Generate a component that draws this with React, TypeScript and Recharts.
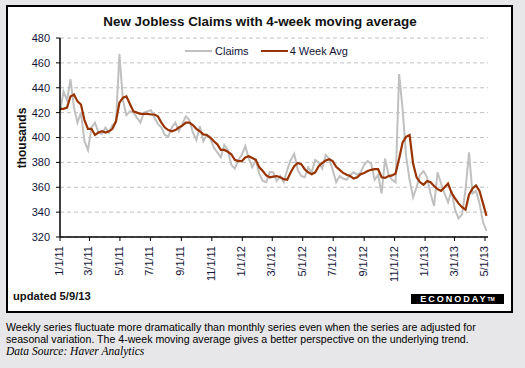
import { LineChart, Line, XAxis, YAxis, CartesianGrid } from "recharts";

// weekly initial claims, thousands (week ending 1/1/11 .. 5/4/13)
const claims = [
  420, 437, 430, 447, 424, 412, 420, 397, 390, 408,
  412, 404, 403, 408, 404, 410, 412, 467, 430, 418,
  421, 420, 416, 412, 420, 421, 422, 416, 411, 408,
  402, 401, 408, 412, 405, 411, 417, 414, 404, 398,
  409, 397, 402, 399, 392, 388, 384, 394, 390, 378,
  375, 382, 386, 393, 383, 376, 382, 371, 365, 364,
  372, 372, 365, 369, 364, 374, 382, 387, 374, 369,
  368, 376, 372, 382, 380, 375, 386, 383, 374, 364,
  369, 367, 366, 370, 372, 370, 372, 378, 381, 379,
  366, 370, 355, 383, 370, 366, 364, 451, 423, 385,
  366, 352, 360, 370, 373, 368, 355, 345, 372, 363,
  355, 348, 357, 342, 335, 338, 358, 388, 355, 357,
  347, 332, 325,
];

const fourWeekAvg = [
  423, 423, 424, 433, 434.5, 429, 426.5, 414, 407, 407,
  402, 404, 405, 404, 405, 407, 413, 428, 432, 433,
  427, 421, 420, 419, 419, 419, 418.5, 418.5, 417, 412,
  408, 406, 405, 406, 408, 409.5, 412, 412, 410, 407,
  405, 402.5, 402, 400, 397, 394.5, 390, 390, 388.5, 386.5,
  382, 381, 381, 384, 385, 383.5, 382, 376, 373, 369.5,
  368, 368.5, 369, 368, 366.5, 366, 372, 377, 379.5, 378.5,
  374.5, 372, 370.5, 372, 377, 379.5, 381.5, 382.5, 381, 376.5,
  374, 371.5, 370, 369, 367, 368, 370.5, 371.5, 373, 374,
  374.5, 374.5, 368, 367.5, 369, 369.5, 371, 383, 396, 400.5,
  402, 379, 368, 364, 362, 365, 364, 361, 358.5, 357,
  360, 363, 355.5, 351, 347, 344, 342, 354, 359, 361.5,
  357, 347, 337,
];

// x ticks: days since 1/1/11
const tickDays = [0, 59, 120, 181, 243, 304, 365, 425, 486, 547, 609, 670, 731, 790, 851];
const tickLabels = [
  "1/1/11", "3/1/11", "5/1/11", "7/1/11", "9/1/11", "11/1/11",
  "1/1/12", "3/1/12", "5/1/12", "7/1/12", "9/1/12", "11/1/12",
  "1/1/13", "3/1/13", "5/1/13",
];
const yTicks = [320, 340, 360, 380, 400, 420, 440, 460, 480];

const data = claims.map((c, i) => ({ day: i * 7, claims: c, avg: fourWeekAvg[i] }));

const FONT = '"Liberation Sans", Arial, sans-serif';
const INK = "#14143a";

function XTick(props: any) {
  const { x, y, payload } = props;
  const label = tickLabels[tickDays.indexOf(payload.value)] ?? "";
  return (
    <text
      x={x + 3}
      y={y + 3}
      transform={`rotate(-90, ${x + 3}, ${y + 3})`}
      textAnchor="end"
      fontSize={11}
      fontFamily={FONT}
      fill={INK}
    >
      {label}
    </text>
  );
}

export default function App() {
  return (
    <div style={{ position: "relative", width: 525, height: 368, background: "#e7e7e9", overflow: "hidden" }}>
      <style>{"body{margin:0}"}</style>

      {/* framed chart box */}
      <div
        style={{
          position: "absolute", left: 6, top: 5, width: 507, height: 308,
          border: "2px solid #000", background: "#fff", boxSizing: "border-box",
        }}
      />

      <div
        style={{
          position: "absolute", left: 0, top: 14, width: 525, textAlign: "center",
          fontFamily: FONT, fontWeight: "bold", fontSize: 13.4, color: "#111",
        }}
      >
        <span style={{ marginLeft: -5 }}>New Jobless Claims with 4-week moving average</span>
      </div>

      <div style={{ position: "absolute", left: 0, top: 0 }}>
        <LineChart width={525} height={300} data={data} margin={{ top: 38, right: 37, left: 0, bottom: 0 }}>
          <CartesianGrid vertical={false} stroke="#c0c0c0" strokeDasharray="4 3" />
          <XAxis
            dataKey="day"
            type="number"
            domain={[0, 857]}
            ticks={tickDays}
            tick={<XTick />}
            tickSize={4}
            height={63}
            interval={0}
            axisLine={{ stroke: "#000", strokeWidth: 1.5 }}
            tickLine={{ stroke: "#000" }}
          />
          <YAxis
            domain={[320, 480]}
            ticks={yTicks}
            interval={0}
            width={60}
            tickSize={4}
            tickMargin={6}
            axisLine={{ stroke: "#000", strokeWidth: 1.5 }}
            tickLine={{ stroke: "#000" }}
            tick={{ fontSize: 11, fontFamily: FONT, fill: INK }}
          />
          <Line type="linear" dataKey="claims" stroke="#c0c0c0" strokeWidth={2} dot={false} isAnimationActive={false} />
          <Line type="linear" dataKey="avg" stroke="#993300" strokeWidth={2.2} dot={false} isAnimationActive={false} />
        </LineChart>
      </div>

      {/* legend */}
      <div
        style={{
          position: "absolute", left: 185, top: 45, display: "flex", alignItems: "center",
          fontFamily: FONT, fontSize: 11, color: INK, whiteSpace: "nowrap",
        }}
      >
        <span style={{ width: 27, height: 2, background: "#c0c0c0", display: "inline-block" }} />
        <span style={{ marginLeft: 3, marginRight: 12 }}>Claims</span>
        <span style={{ width: 27, height: 2, background: "#993300", display: "inline-block" }} />
        <span style={{ marginLeft: 2 }}>4 Week Avg</span>
      </div>

      {/* y axis title */}
      <div
        style={{
          position: "absolute", left: 22, top: 138, transform: "translate(-50%, -50%) rotate(-90deg)",
          fontFamily: FONT, fontWeight: "bold", fontSize: 12, color: "#111", whiteSpace: "nowrap",
        }}
      >
        thousands
      </div>

      <div
        style={{
          position: "absolute", left: 13, top: 290, fontFamily: FONT, fontWeight: "bold",
          fontSize: 11.2, color: "#111",
        }}
      >
        updated 5/9/13
      </div>

      <div
        style={{
          position: "absolute", left: 411, top: 294, width: 93, height: 10, background: "#000",
          color: "#fff", fontFamily: FONT, fontWeight: "bold", fontSize: 9, lineHeight: "10px",
          letterSpacing: 2, textAlign: "center",
        }}
      >
        ECONODAY<span style={{ fontSize: 5, letterSpacing: 0, verticalAlign: "top" }}>TM</span>
      </div>

      {/* caption */}
      <div
        style={{
          position: "absolute", left: 6, top: 321, width: 515, fontFamily: FONT, fontSize: 10.6,
          lineHeight: "12px", color: "#000",
        }}
      >
        <div style={{ whiteSpace: "nowrap" }}>
          Weekly series fluctuate more dramatically than monthly series even when the series are adjusted for
        </div>
        <div style={{ whiteSpace: "nowrap" }}>
          seasonal variation. The 4-week moving average gives a better perspective on the underlying trend.
        </div>
        <div style={{ fontFamily: '"Liberation Serif", "Times New Roman", serif', fontStyle: "italic", fontSize: 11.5 }}>
          Data Source: Haver Analytics
        </div>
      </div>
    </div>
  );
}
